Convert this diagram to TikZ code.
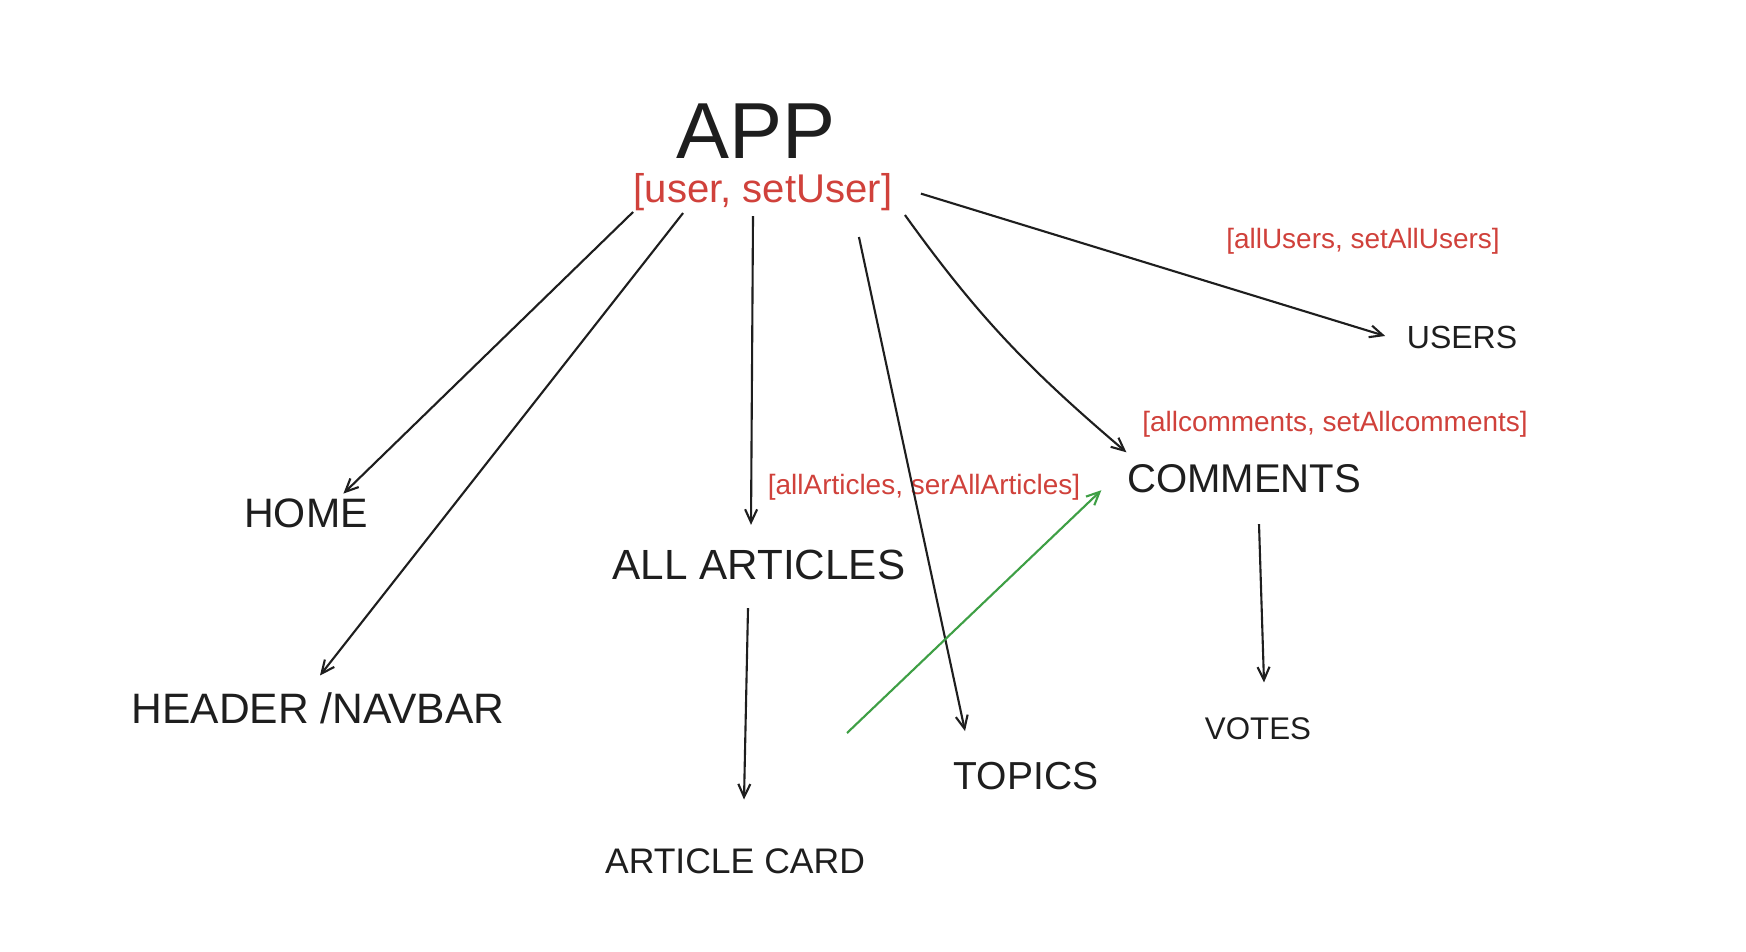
\documentclass[tikz,border=0pt]{standalone}
\usepackage{fontspec}
\setmainfont{Liberation Sans}
\usetikzlibrary{calc,arrows.meta}
\definecolor{ink}{HTML}{1E1E1E}
\definecolor{statered}{HTML}{D0413B}
\definecolor{flowgreen}{HTML}{3E9F45}
\tikzset{
  comp/.style={inner sep=0pt, text=ink, anchor=base},
  hook/.style={inner sep=0pt, text=statered, anchor=base, font=\fontsize{7.95}{9.5}\selectfont},
  link/.style={draw=ink, line width=0.6pt, -{Straight Barb[length=1.3mm,width=1.2mm]}},
}
\begin{document}
\begin{tikzpicture}[x=0.01cm,y=-0.01cm]
	%%%%% START %%%%%
	\useasboundingbox[fill=white] (0,0) rectangle (1746,952);

	\node[comp, font=\fontsize{22.6}{27}\selectfont] (app) at (756,159) {APP};
	\node[hook, font=\fontsize{11.4}{14}\selectfont] (st) at (763,203) {[user, setUser]};

	\node[comp, font=\fontsize{11.7}{14}\selectfont] (home) at (306,527) {HOME};
	\node[comp, font=\fontsize{12.1}{14}\selectfont] (header) at (318,723) {HEADER /NAVBAR};
	\node[comp, font=\fontsize{12}{14}\selectfont] (all) at (759,579) {ALL ARTICLES};
	\node[comp, font=\fontsize{10.1}{12}\selectfont] (card) at (735,873) {ARTICLE CARD};
	\node[comp, font=\fontsize{11.1}{13}\selectfont] (topics) at (1026,789) {TOPICS};
	\node[comp, font=\fontsize{11.4}{14}\selectfont] (comments) at (1244,492) {COMMENTS};
	\node[comp, font=\fontsize{8.9}{11}\selectfont] (votes) at (1258,739) {VOTES};
	\node[comp, font=\fontsize{9.1}{11}\selectfont] (users) at (1462,349) {USERS};

	\node[hook] (stusers) at (1363,249) {[allUsers, setAllUsers]};
	\node[hook] (stcomments) at (1335,431) {[allcomments, setAllcomments]};
	\node[hook] (starticles) at (924,494) {[allArticles, serAllArticles]};

	% from app state
	\draw[link] (st.south west) -- ($(home.north east)+(-25,-4)$);
	\draw[link] ($(st.south west)+(50,1)$) -- ($(header.north)+(2,-16)$);
	\draw[link] ($(st.south)+(-10,4)$) -- ($(all.north)+(-8,-24)$);
	\draw[link] ($(st.south east)+(-34,25)$) -- ($(topics.north)+(-61,-30)$);
	\draw[link] ($(st.south east)+(12,3)$) .. controls +(72,100) and +(-100,-85) .. ($(comments.north west)+(0,-11)$);
	\draw[link] ($(st.east)+(28,1)$) -- ($(users.west)+(-21,-2)$);

	% children
	\draw[link] ($(all.south)+(-11,28)$) -- ($(card.north)+(9,-48)$);
	\draw[link] ($(comments.south)+(15,31)$) -- ($(votes.north)+(6,-34)$);

	\coordinate (gs) at (847,733);
	\draw[link, draw=flowgreen] (gs) -- ($(comments.west)+(-25,12)$);

	%%%%% END %%%%%
\end{tikzpicture}
\end{document}
